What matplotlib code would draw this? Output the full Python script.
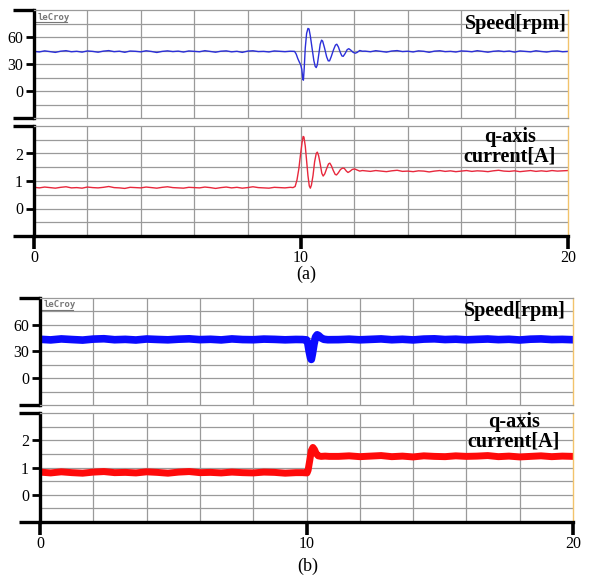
import numpy as np
import matplotlib
matplotlib.use("Agg")
from matplotlib import pyplot as plt

# ---- (a) measured traces ----
a_speed_pre = [44.0, 43.4, 44.6, 43.8, 42.9, 44.2, 44.8, 43.6, 44.1, 43.2,
               44.5, 44.0, 43.1, 44.3, 44.9, 43.7, 44.2, 43.0, 44.4, 44.1,
               43.5, 44.7, 43.9, 42.8, 44.0, 44.6, 43.8, 44.3, 43.3, 44.5,
               44.0, 43.6, 44.8, 43.9, 43.1, 44.2, 44.6, 43.5, 44.1, 42.9,
               44.3, 44.7, 43.8, 44.0, 43.4, 44.5, 44.1, 43.7, 44.2]
a_speed_step_t = [9.76, 9.82, 9.88, 9.94, 9.99, 10.03, 10.07, 10.09, 10.12, 10.16,
                  10.21, 10.26, 10.30, 10.35, 10.42, 10.48, 10.53, 10.57, 10.61, 10.67,
                  10.72, 10.77, 10.81, 10.88, 10.96, 11.02, 11.07, 11.13, 11.22, 11.29,
                  11.34, 11.40, 11.47, 11.53, 11.58, 11.65, 11.73, 11.79, 11.86, 11.95,
                  12.03, 12.10, 12.20, 12.30]
a_speed_step = [44, 41, 36, 32, 29, 24, 13, 12, 25, 48,
                64, 69.5, 69, 61, 46, 34, 27.5, 26, 29, 42,
                52, 56.5, 55.5, 48, 38, 33.5, 33.5, 38, 46, 51,
                52, 49, 43, 39, 38.5, 41.5, 46, 47, 45.5, 43,
                42, 42.8, 45, 44.2]
a_speed_post = [44.3, 43.6, 44.8, 44.0, 43.2, 44.4, 44.9, 43.8, 44.2, 43.4,
                44.6, 44.1, 43.0, 44.3, 44.7, 43.7, 44.0, 43.3, 44.5, 44.2,
                43.6, 44.8, 43.9, 43.1, 44.1, 44.6, 43.8, 44.4, 43.2, 44.5,
                44.0, 43.5, 44.7, 43.9, 43.3, 44.2, 44.5, 43.6, 44.0]

a_cur_pre = [0.77, 0.75, 0.78, 0.76, 0.74, 0.77, 0.79, 0.75, 0.76, 0.74,
             0.78, 0.76, 0.75, 0.77, 0.80, 0.76, 0.75, 0.73, 0.77, 0.76,
             0.75, 0.78, 0.76, 0.74, 0.77, 0.79, 0.76, 0.75, 0.74, 0.77,
             0.76, 0.75, 0.78, 0.76, 0.73, 0.76, 0.78, 0.75, 0.77, 0.74,
             0.76, 0.79, 0.76, 0.75, 0.74, 0.77, 0.76, 0.75, 0.77]
a_cur_step_t = [9.70, 9.78, 9.85, 9.92, 9.98, 10.04, 10.08, 10.11, 10.16, 10.21,
                10.26, 10.31, 10.35, 10.39, 10.45, 10.51, 10.57, 10.61, 10.66, 10.72,
                10.78, 10.83, 10.89, 10.96, 11.03, 11.08, 11.14, 11.21, 11.28, 11.33,
                11.40, 11.48, 11.56, 11.62, 11.70, 11.76, 11.83, 11.92, 12.01, 12.10,
                12.20, 12.30]
a_cur_step = [0.76, 0.80, 1.04, 1.45, 1.95, 2.40, 2.62, 2.60, 2.27, 1.75,
              1.20, 0.82, 0.74, 0.85, 1.20, 1.70, 2.00, 2.05, 1.92, 1.62,
              1.28, 1.18, 1.26, 1.45, 1.62, 1.65, 1.55, 1.38, 1.24, 1.22,
              1.30, 1.42, 1.47, 1.46, 1.36, 1.31, 1.35, 1.42, 1.44, 1.40,
              1.36, 1.38]
a_cur_post = [1.37, 1.35, 1.38, 1.36, 1.34, 1.37, 1.39, 1.35, 1.36, 1.34,
              1.37, 1.36, 1.33, 1.36, 1.38, 1.35, 1.37, 1.34, 1.36, 1.38,
              1.35, 1.37, 1.36, 1.34, 1.37, 1.39, 1.36, 1.35, 1.37, 1.34,
              1.36, 1.38, 1.35, 1.37, 1.35, 1.38, 1.36, 1.37, 1.38]

# ---- (b) measured traces (mean of the noisy band) ----
b_speed_pre = [43.5, 42.8, 43.9, 43.2, 42.6, 43.7, 44.1, 43.0, 43.4, 42.7,
               43.8, 43.3, 42.9, 43.6, 44.0, 43.1, 43.5, 42.8, 43.9, 43.2,
               43.0, 43.7, 43.4, 42.9, 43.3]
b_speed_step_t = [9.85, 10.00, 10.05, 10.10, 10.15, 10.18, 10.22, 10.28, 10.34, 10.40,
                  10.46, 10.55, 10.65, 10.80]
b_speed_step = [43.2, 42.8, 39, 30, 23, 21, 27, 38, 46, 48.5,
                47.5, 45, 43.5, 43]
b_speed_post = [43.1, 43.6, 42.9, 43.4, 43.9, 43.0, 43.5, 42.8, 43.7, 44.0,
                43.2, 43.6, 42.9, 43.4, 43.8, 43.1, 43.5, 42.7, 43.6, 43.9,
                43.2, 43.4, 43.0]

b_cur_pre = [0.83, 0.80, 0.84, 0.81, 0.79, 0.83, 0.85, 0.81, 0.82, 0.80,
             0.84, 0.82, 0.79, 0.83, 0.85, 0.81, 0.82, 0.80, 0.83, 0.81,
             0.80, 0.83, 0.82, 0.79, 0.81]
b_cur_step_t = [9.85, 10.02, 10.06, 10.12, 10.18, 10.24, 10.30, 10.36, 10.44, 10.55,
                10.70, 10.85]
b_cur_step = [0.81, 0.80, 0.90, 1.25, 1.62, 1.74, 1.66, 1.52, 1.43, 1.41,
              1.42, 1.41]
b_cur_post = [1.41, 1.43, 1.40, 1.42, 1.44, 1.40, 1.42, 1.39, 1.43, 1.41,
              1.40, 1.43, 1.41, 1.42, 1.44, 1.40, 1.42, 1.39, 1.41, 1.43,
              1.40, 1.42, 1.41]

x_ticks = [0, 10, 20]
speed_ticks = [0, 30, 60]
cur_ticks = [0, 1, 2]


def trace(pre, pre_end, step_t, step, post, post_start):
    t = np.concatenate([np.linspace(0, pre_end, len(pre)), step_t,
                        np.linspace(post_start, 20, len(post))])
    return t, np.concatenate([pre, step, post])


SERIF = "Liberation Serif"
GRID = "#9a9a9a"


def scope_axes(fig, rect, ylim, yticks, ystep, bottom):
    ax = fig.add_axes(rect)
    ax.set_xlim(0, 20)
    ax.set_ylim(*ylim)
    for x in np.arange(2, 20, 2):
        ax.axvline(x, color=GRID, lw=0.9, zorder=0)
    for y in np.arange(ylim[0] + ystep, ylim[1], ystep):
        ax.axhline(y, color=GRID, lw=0.9, zorder=0)
    ax.spines["top"].set_color(GRID)
    ax.spines["top"].set_linewidth(0.9)
    ax.spines["right"].set_color("#f2c36b")
    ax.spines["right"].set_linewidth(1.0)
    ax.spines["left"].set_color("black")
    ax.spines["left"].set_linewidth(2.4)
    ax.set_yticks(yticks)
    ax.set_yticks(list(ylim), minor=True)
    ax.tick_params(axis="y", which="major", length=6, width=2, pad=2,
                   labelsize=11.5, colors="black")
    ax.tick_params(axis="y", which="minor", length=15, width=2.4)
    for lab in ax.get_yticklabels():
        lab.set_family(SERIF)
    if bottom:
        ax.spines["bottom"].set_color("black")
        ax.spines["bottom"].set_linewidth(2.4)
        ax.set_xticks(x_ticks)
        ax.tick_params(axis="x", length=9, width=2.6, pad=1, labelsize=11.5)
        for lab in ax.get_xticklabels():
            lab.set_family(SERIF)
    else:
        ax.spines["bottom"].set_color(GRID)
        ax.spines["bottom"].set_linewidth(0.9)
        ax.set_xticks([])
    return ax


def lecroy(ax):
    ax.text(0.006, 0.975, "leCroy", transform=ax.transAxes, ha="left", va="top",
            fontsize=6.5, color="#777777", fontweight="bold",
            family="DejaVu Sans Mono")
    ax.plot([0.004, 0.062], [0.885, 0.885], transform=ax.transAxes,
            color="#777777", lw=0.8)


W, H = 589, 577
fig = plt.figure(figsize=(W / 100, H / 100), dpi=100)

# (a)
ax1 = scope_axes(fig, [34 / W, 1 - 118 / H, 534 / W, 108 / H], (-30, 90),
                 speed_ticks, 15, False)
t, v = trace(a_speed_pre, 9.6, a_speed_step_t, a_speed_step, a_speed_post, 12.4)
ax1.plot(t, v, color="#2b2fd9", lw=1.0)
lecroy(ax1)
ax1.text(0.998, 0.87, "Speed[rpm]", transform=ax1.transAxes, ha="right",
         va="center", family=SERIF, fontweight="bold", fontsize=14.5)

ax2 = scope_axes(fig, [34 / W, 1 - 236 / H, 534 / W, 110 / H], (-1, 3),
                 cur_ticks, 0.5, True)
t, v = trace(a_cur_pre, 9.6, a_cur_step_t, a_cur_step, a_cur_post, 12.4)
ax2.plot(t, v, color="#e8283c", lw=1.0)
ax2.text(0.891, 0.81, "q-axis\ncurrent[A]", transform=ax2.transAxes,
         ha="center", va="center", multialignment="center", family=SERIF,
         fontweight="bold", fontsize=14.5, linespacing=1.0)
fig.text(306 / W, 1 - 274 / H, "(a)", ha="center", va="center",
         family=SERIF, fontsize=13)

# (b)
ax3 = scope_axes(fig, [40 / W, 1 - 405 / H, 533 / W, 107.3 / H], (-30, 90),
                 speed_ticks, 15, False)
t, v = trace(b_speed_pre, 9.6, b_speed_step_t, b_speed_step, b_speed_post, 11.2)
ax3.plot(t, v, color="#0a0aff", lw=5.5, solid_joinstyle="round")
lecroy(ax3)
ax3.text(0.987, 0.876, "Speed[rpm]", transform=ax3.transAxes, ha="right",
         va="center", family=SERIF, fontweight="bold", fontsize=14.5)

ax4 = scope_axes(fig, [40 / W, 1 - 521.7 / H, 533 / W, 108.4 / H], (-1, 3),
                 cur_ticks, 0.5, True)
t, v = trace(b_cur_pre, 9.6, b_cur_step_t, b_cur_step, b_cur_post, 11.2)
ax4.plot(t, v, color="#ff0a0a", lw=5.0, solid_joinstyle="round")
ax4.text(0.889, 0.83, "q-axis\ncurrent[A]", transform=ax4.transAxes,
         ha="center", va="center", multialignment="center", family=SERIF,
         fontweight="bold", fontsize=14.5, linespacing=1.0)
fig.text(308 / W, 1 - 566 / H, "(b)", ha="center", va="center",
         family=SERIF, fontsize=13)

plt.savefig("out.png", dpi=100)
